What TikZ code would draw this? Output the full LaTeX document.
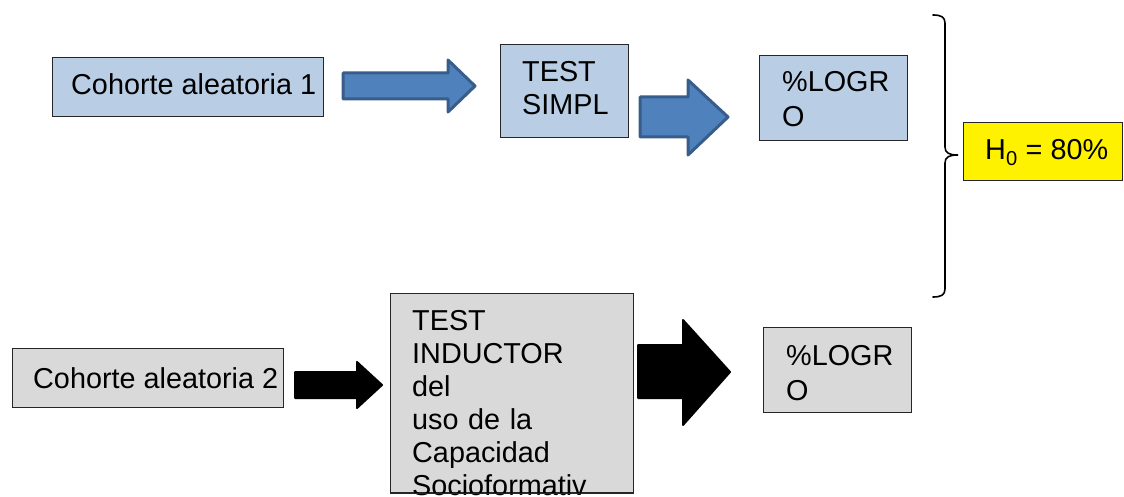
\documentclass[tikz,border=0pt]{standalone}
\usepackage{fontspec}
\setmainfont{Liberation Sans}
\definecolor{boxblue}{HTML}{B9CDE5}
\definecolor{boxgray}{HTML}{D9D9D9}
\definecolor{arrblue}{HTML}{4F81BD}
\definecolor{arrblueedge}{HTML}{385D8A}
\definecolor{boxedge}{HTML}{262626}
\begin{document}
\begin{tikzpicture}[x=1pt,y=-1pt,
  box/.style={draw=boxedge, line width=1.2pt, inner sep=0pt, anchor=north west},
  bluebox/.style={box, fill=boxblue},
  graybox/.style={box, fill=boxgray},
  yellowbox/.style={box, fill=yellow},
  txt/.style={anchor=base west, inner sep=0pt, font=\fontsize{28.8}{33}\selectfont},
  mtxt/.style={txt, text width=220pt, align=left},
  bluearrow/.style={fill=arrblue, draw=arrblueedge, line width=3pt, line join=round},
  blackarrow/.style={fill=black, draw=black, line width=2pt, line join=round},
  brace/.style={draw=black, line width=1.6pt, line cap=round}]
\useasboundingbox (0,0) rectangle (1124,497);

% top row
\node[bluebox, minimum width=271pt, minimum height=59pt] (c1) at (52,57) {};
\node[txt] (c1t) at (71,95) {Cohorte aleatoria 1};

\node[bluebox, minimum width=128pt, minimum height=93pt] (ts) at (500,44) {};
\node[mtxt, font=\fontsize{28.8}{33}\selectfont] (tst) at (522,82) {TEST\\SIMPL};

\node[bluebox, minimum width=148pt, minimum height=85pt] (l1) at (759,55) {};
\node[mtxt, font=\fontsize{28.8}{35}\selectfont] (l1t) at (782,92) {\%LOGR\\O};

\draw[bluearrow] (343,73) -- (448,73) -- (448,60) -- (475,86) -- (448,112) -- (448,99) -- (343,99) -- cycle;
\draw[bluearrow] (640,97) -- (688,97) -- (688,80) -- (728,117) -- (688,155) -- (688,137) -- (640,137) -- cycle;

% brace and hypothesis
\draw[brace] (933,15) .. controls (941,15) and (945,17) .. (945,23) -- (945,147)
  .. controls (945,153) and (949,155) .. (958,155)
  .. controls (949,155) and (945,157) .. (945,163) -- (945,289)
  .. controls (945,295) and (941,297) .. (933,297);
\node[yellowbox, minimum width=159pt, minimum height=58pt] (h0) at (963,122) {};
\node[txt] (h0t) at (985,160) {H\textsubscript{0} = 80\%};

% bottom row
\node[graybox, minimum width=271pt, minimum height=59pt] (c2) at (12,348) {};
\node[txt] (c2t) at (33,388) {Cohorte aleatoria 2};

\node[graybox, minimum width=243pt, minimum height=199pt] (ti) at (390,293) {};
\node[mtxt, font=\fontsize{28.8}{33}\selectfont] (tit) at (412,330.5)
  {TEST\\INDUCTOR\\del\\uso de la\\Capacidad\\Socioformativ};
\draw[boxedge, line width=1.2pt] (ti.south west) -- (ti.south east);

\node[graybox, minimum width=148pt, minimum height=85pt] (l2) at (763,327) {};
\node[mtxt, font=\fontsize{28.8}{35}\selectfont] (l2t) at (786,365) {\%LOGR\\O};

\draw[blackarrow] (295,372) -- (357,372) -- (357,362) -- (382,385) -- (357,408) -- (357,398) -- (295,398) -- cycle;
\draw[blackarrow] (638,345) -- (683,345) -- (683,320) -- (730,372) -- (683,425) -- (683,398) -- (638,398) -- cycle;
\end{tikzpicture}
\end{document}
